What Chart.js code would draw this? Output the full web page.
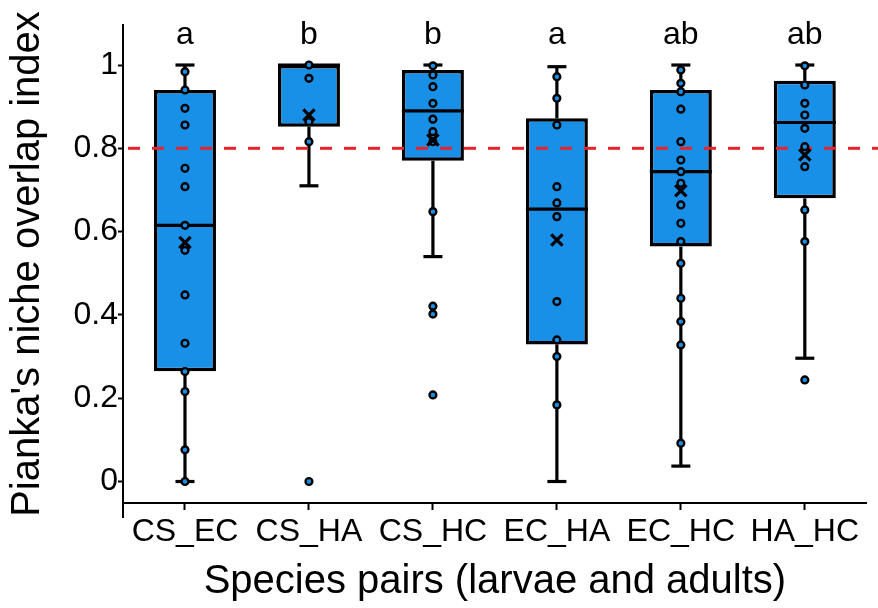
<!DOCTYPE html>
<html>
<head>
<meta charset="utf-8">
<script src="https://cdn.jsdelivr.net/npm/chart.js@4/dist/chart.umd.min.js"></script>
<style>
html,body{margin:0;padding:0;background:#fff;}
#wrap{width:878px;height:608px;}
</style>
</head>
<body>
<div id="wrap"><canvas id="c" width="878" height="608"></canvas></div>
<script>
// ---- data ----
const categories = ['CS_EC', 'CS_HA', 'CS_HC', 'EC_HA', 'EC_HC', 'HA_HC'];
const q1 = [0.265, 0.852, 0.770, 0.329, 0.564, 0.680];
const medians = [0.615, 1.000, 0.890, 0.654, 0.744, 0.862];
const q3 = [0.940, 1.000, 0.988, 0.872, 0.940, 0.962];
const whiskerLow = [0.000, 0.710, 0.540, 0.000, 0.037, 0.296];
const whiskerHigh = [1.000, 1.000, 1.000, 0.996, 1.000, 1.000];
const means = [0.574, 0.880, 0.820, 0.580, 0.698, 0.784];
const letters = ['a', 'b', 'b', 'a', 'ab', 'ab'];
const pointsCS_EC = [0.984, 0.940, 0.896, 0.856, 0.752, 0.708, 0.615, 0.555, 0.448, 0.332, 0.264, 0.216, 0.076, 0.000];
const pointsCS_HA = [1.000, 0.968, 0.864, 0.816, 0.000];
const pointsCS_HC = [0.998, 0.976, 0.948, 0.908, 0.870, 0.840, 0.816, 0.648, 0.421, 0.402, 0.208];
const pointsEC_HA = [0.972, 0.920, 0.856, 0.708, 0.669, 0.636, 0.432, 0.340, 0.300, 0.184];
const pointsEC_HC = [0.988, 0.956, 0.936, 0.894, 0.816, 0.772, 0.744, 0.716, 0.664, 0.620, 0.576, 0.524, 0.440, 0.384, 0.328, 0.092];
const pointsHA_HC = [0.998, 0.952, 0.908, 0.880, 0.848, 0.804, 0.756, 0.652, 0.576, 0.244];
const yTickValues = [0, 0.2, 0.4, 0.6, 0.8, 1];
const referenceLine = 0.8;
const yMin = -0.0516, yMax = 1.0961;

// ---- styling ----
const FONT = "'Liberation Sans', Arial, Helvetica, sans-serif";
const BLUE = '#1890e8';
const RED = '#e8242b';

const allPoints = [pointsCS_EC, pointsCS_HA, pointsCS_HC, pointsEC_HA, pointsEC_HC, pointsHA_HC];
const pointData = [];
allPoints.forEach((arr, i) => arr.forEach(v => pointData.push({x: categories[i], y: v})));
const meanData = means.map((v, i) => ({x: categories[i], y: v}));
const boxData = categories.map((c, i) => [q1[i], q3[i]]);

const boxExtras = {
  id: 'boxExtras',
  afterDatasetDraw(chart, args) {
    if (args.index !== 0) return;
    const ctx = chart.ctx, xs = chart.scales.x, ys = chart.scales.y;
    const meta = chart.getDatasetMeta(0);
    ctx.save();
    ctx.strokeStyle = '#000';
    ctx.lineWidth = 3.2;
    ctx.lineCap = 'butt';
    const capHalf = 9.5;
    categories.forEach((c, i) => {
      const bar = meta.data[i];
      const cx = xs.getPixelForValue(i);
      const half = bar.width / 2;
      const my = ys.getPixelForValue(medians[i]);
      ctx.beginPath(); ctx.moveTo(cx - half, my); ctx.lineTo(cx + half, my); ctx.stroke();
      const top = ys.getPixelForValue(q3[i]);
      const bot = ys.getPixelForValue(q1[i]);
      if (whiskerHigh[i] > q3[i]) {
        const hy = ys.getPixelForValue(whiskerHigh[i]);
        ctx.beginPath(); ctx.moveTo(cx, top); ctx.lineTo(cx, hy); ctx.stroke();
        ctx.beginPath(); ctx.moveTo(cx - capHalf, hy); ctx.lineTo(cx + capHalf, hy); ctx.stroke();
      }
      if (whiskerLow[i] < q1[i]) {
        const ly = ys.getPixelForValue(whiskerLow[i]);
        ctx.beginPath(); ctx.moveTo(cx, bot); ctx.lineTo(cx, ly); ctx.stroke();
        ctx.beginPath(); ctx.moveTo(cx - capHalf, ly); ctx.lineTo(cx + capHalf, ly); ctx.stroke();
      }
    });
    // reference line
    const ry = ys.getPixelForValue(referenceLine);
    ctx.strokeStyle = RED;
    ctx.lineWidth = 3;
    ctx.setLineDash([12, 12]);
    ctx.beginPath(); ctx.moveTo(chart.chartArea.left + 5, ry); ctx.lineTo(chart.width, ry); ctx.stroke();
    ctx.restore();
  },
  afterDraw(chart) {
    const ctx = chart.ctx, xs = chart.scales.x;
    const area = chart.chartArea;
    ctx.save();
    // small extension of the y axis line below the x axis
    ctx.strokeStyle = '#000';
    ctx.lineWidth = 2;
    ctx.beginPath(); ctx.moveTo(area.left, area.bottom); ctx.lineTo(area.left, area.bottom + 15); ctx.stroke();
    // significance letters
    ctx.fillStyle = '#000';
    ctx.font = '32px ' + FONT;
    ctx.textAlign = 'center';
    ctx.textBaseline = 'alphabetic';
    letters.forEach((l, i) => {
      ctx.fillText(l, xs.getPixelForValue(i), area.top + 18.5);
    });
    ctx.restore();
  }
};

new Chart(document.getElementById('c'), {
  data: {
    labels: categories,
    datasets: [
      {
        type: 'bar',
        data: boxData,
        backgroundColor: BLUE,
        borderColor: '#000',
        borderWidth: 3.5,
        borderSkipped: false,
        categoryPercentage: 1,
        barPercentage: 0.5,
        order: 2
      },
      {
        type: 'line',
        data: pointData,
        showLine: false,
        pointStyle: 'circle',
        pointRadius: 3.4,
        pointBorderWidth: 2.4,
        pointBackgroundColor: BLUE,
        pointBorderColor: '#000',
        order: 1
      },
      {
        type: 'line',
        data: meanData,
        showLine: false,
        pointStyle: 'crossRot',
        pointRadius: 8,
        pointBorderWidth: 3.2,
        pointBorderColor: '#000',
        order: 0
      }
    ]
  },
  options: {
    responsive: false,
    animation: false,
    devicePixelRatio: 1,
    layout: {padding: {left: 0, right: 4, top: 25, bottom: 0}},
    plugins: {legend: {display: false}, tooltip: {enabled: false}},
    scales: {
      x: {
        type: 'category',
        offset: true,
        grid: {display: true, drawOnChartArea: false, drawTicks: true, tickLength: 7, tickWidth: 2, tickColor: '#000', offset: false},
        border: {display: true, color: '#000', width: 2},
        ticks: {font: {family: FONT, size: 32}, color: '#000', padding: 3, maxRotation: 0, autoSkip: false},
        title: {display: true, text: 'Species pairs (larvae and adults)', font: {family: FONT, size: 40}, color: '#000', padding: {top: 0, bottom: 2}},
        afterFit(s) { s.height = 105; }
      },
      y: {
        type: 'linear',
        min: yMin,
        max: yMax,
        afterBuildTicks(s) { s.ticks = yTickValues.map(v => ({value: v})); },
        grid: {display: true, drawOnChartArea: false, drawTicks: true, tickLength: 5, tickWidth: 2, tickColor: '#000'},
        border: {display: true, color: '#000', width: 2},
        ticks: {
          font: {family: FONT, size: 32}, color: '#000', padding: 0,
          callback: v => (v === 0 ? '0' : v === 1 ? '1' : v.toFixed(1))
        },
        title: {display: true, text: "Pianka's niche overlap index", font: {family: FONT, size: 40}, color: '#000', padding: {top: 4, bottom: 0}},
        afterFit(s) { s.width = 123; }
      }
    }
  },
  plugins: [boxExtras]
});
</script>
</body>
</html>
